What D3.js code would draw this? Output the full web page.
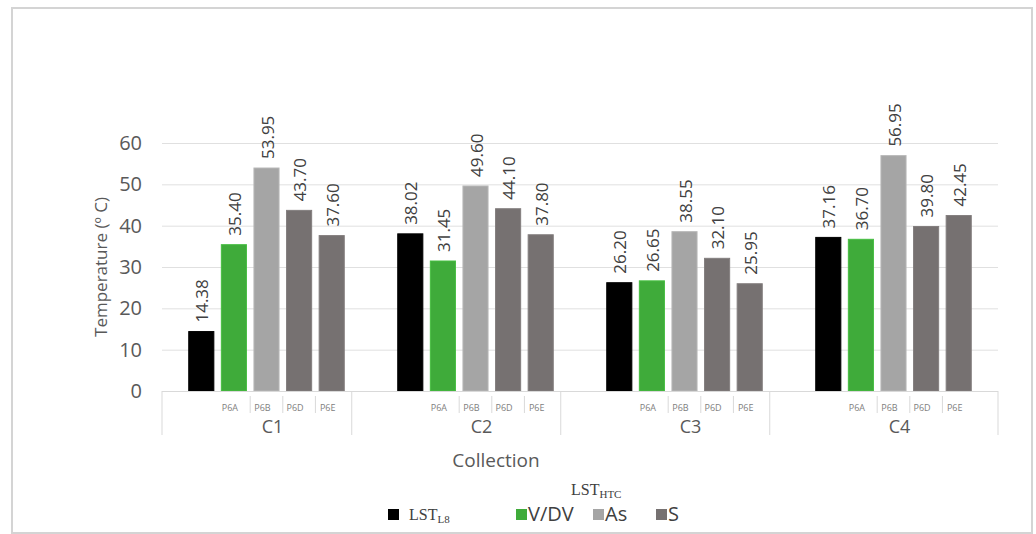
<!DOCTYPE html>
<html>
<head>
<meta charset="utf-8">
<script src="https://cdn.jsdelivr.net/npm/d3@7"></script>
<style>
  html, body { margin: 0; padding: 0; background: #fff; }
  svg { display: block; }
</style>
</head>
<body>
<svg id="chart" width="1036" height="534"></svg>
<script>
// ---- data ----
const collections = ["C1", "C2", "C3", "C4"];
const subCategories = ["", "P6A", "P6B", "P6D", "P6E"];
const barSeries = ["LST_L8", "V/DV", "As", "S", "S"];
const valuesC1 = [14.38, 35.40, 53.95, 43.70, 37.60];
const valuesC2 = [38.02, 31.45, 49.60, 44.10, 37.80];
const valuesC3 = [26.20, 26.65, 38.55, 32.10, 25.95];
const valuesC4 = [37.16, 36.70, 56.95, 39.80, 42.45];
const yTicks = [0, 10, 20, 30, 40, 50, 60];
const legendSeries = ["LST_L8", "V/DV", "As", "S"];

const values = [valuesC1, valuesC2, valuesC3, valuesC4];
const colors = { "LST_L8": "#000000", "V/DV": "#3fab3a", "As": "#a5a5a5", "S": "#767171" };

const svg = d3.select("#chart");
const font = "'Open Sans', 'Liberation Sans', sans-serif";
const textGray = "#595959";

// outer frame
svg.append("rect").attr("x", 12).attr("y", 8).attr("width", 1020).attr("height", 525)
  .attr("fill", "#fff").attr("stroke", "#d4d4d4").attr("stroke-width", 2);

const plot = { left: 162, right: 998, top: 143, bottom: 391 };

const y = d3.scaleLinear().domain([0, 60]).range([plot.bottom, plot.top]);
const x0 = d3.scaleBand().domain(collections).range([plot.left, plot.right]).padding(0);
const x1 = d3.scaleBand().domain(d3.range(subCategories.length))
  .range([0, x0.bandwidth()]).paddingInner(0.23).paddingOuter(0.82);

// gridlines
svg.append("g").selectAll("line").data(yTicks.filter(d => d > 0)).join("line")
  .attr("x1", plot.left).attr("x2", plot.right)
  .attr("y1", d => y(d) + 0.5).attr("y2", d => y(d) + 0.5)
  .attr("stroke", "#e0e0e0").attr("stroke-width", 1);

// y axis (labels only)
const yAxis = d3.axisLeft(y).tickValues(yTicks).tickSize(0).tickPadding(0).tickFormat(d3.format("d"));
const gy = svg.append("g").attr("transform", `translate(${plot.left - 20},0)`).call(yAxis);
gy.select(".domain").remove();
gy.selectAll("text").attr("font-family", font).attr("font-size", 20).attr("fill", textGray);

// y title
svg.append("text")
  .attr("transform", `translate(107,${(plot.top + plot.bottom) / 2}) rotate(-90)`)
  .attr("text-anchor", "middle")
  .attr("font-family", font).attr("font-size", 17).attr("fill", textGray)
  .text("Temperature (º C)");

// bars
const rows = [];
collections.forEach((c, gi) => {
  values[gi].forEach((v, si) => rows.push({ c, si, v, s: barSeries[si] }));
});

svg.append("g").selectAll("rect").data(rows).join("rect")
  .attr("x", d => x0(d.c) + x1(d.si))
  .attr("y", d => y(d.v))
  .attr("width", x1.bandwidth())
  .attr("height", d => y(0) - y(d.v))
  .attr("fill", d => colors[d.s])
  .attr("stroke", d => d3.color(colors[d.s]).brighter(0.3))
  .attr("stroke-width", 1);

// data labels
svg.append("g").selectAll("text").data(rows).join("text")
  .attr("transform", d => `translate(${x0(d.c) + x1(d.si) + x1.bandwidth() / 2 + 1},${y(d.v) - 9}) rotate(-90)`)
  .attr("dy", "0.36em")
  .attr("font-family", font).attr("font-size", 17).attr("fill", "#404040")
  .text(d => d3.format(".2f")(d.v));

// category axis
const axisG = svg.append("g").attr("stroke", "#d9d9d9").attr("stroke-width", 1);
axisG.append("line").attr("x1", plot.left).attr("x2", plot.right)
  .attr("y1", plot.bottom + 0.5).attr("y2", plot.bottom + 0.5);

const gap = x1.step() * x1.paddingInner();
const lastIdx = subCategories.length - 1;
const separators = [plot.left]
  .concat(collections.slice(0, -1).map(c => x0(c) + x1(lastIdx) + x1.bandwidth() + gap))
  .concat([plot.right]);
axisG.selectAll("line.sep").data(separators).join("line").attr("class", "sep")
  .attr("x1", d => d).attr("x2", d => d)
  .attr("y1", plot.bottom).attr("y2", plot.bottom + 44);

// sub ticks between labelled sub-categories
const subTicks = [];
collections.forEach(c => {
  for (let i = 2; i < subCategories.length; i++) subTicks.push(x0(c) + x1(i) - gap / 2);
});
axisG.selectAll("line.sub").data(subTicks).join("line").attr("class", "sub")
  .attr("x1", d => d).attr("x2", d => d)
  .attr("y1", plot.bottom + 5).attr("y2", plot.bottom + 22);

// sub-category labels
const subLabels = [];
collections.forEach(c => subCategories.forEach((s, i) => { if (s) subLabels.push({ c, i, s }); }));
svg.append("g").selectAll("text").data(subLabels).join("text")
  .attr("x", d => x0(d.c) + x1(d.i) + x1.bandwidth() / 2 - 4)
  .attr("y", plot.bottom + 20)
  .attr("text-anchor", "middle")
  .attr("font-family", font).attr("font-size", 9).attr("fill", "#808080")
  .text(d => d.s);

// collection labels
svg.append("g").selectAll("text").data(collections).join("text")
  .attr("x", d => x0(d) + x1(0) + (x1(lastIdx) + x1.bandwidth() - x1(0)) / 2 + 6)
  .attr("y", plot.bottom + 42)
  .attr("text-anchor", "middle")
  .attr("font-family", font).attr("font-size", 18).attr("fill", textGray)
  .text(d => d);

// x title
svg.append("text").attr("x", 496).attr("y", 467)
  .attr("text-anchor", "middle")
  .attr("font-family", font).attr("font-size", 19).attr("fill", textGray)
  .text("Collection");

// legend
const legendY = 515;
const legendPos = { "LST_L8": 388, "V/DV": 516, "As": 593, "S": 656 };
const leg = svg.append("g");
legendSeries.forEach(s => {
  leg.append("rect").attr("x", legendPos[s]).attr("y", legendY - 6)
    .attr("width", 11).attr("height", 11).attr("fill", colors[s]);
});
// LST_L8 (serif with subscript)
const t1 = leg.append("text").attr("x", legendPos["LST_L8"] + 21).attr("y", legendY + 5)
  .attr("font-family", "'Liberation Serif', 'DejaVu Serif', serif").attr("font-size", 16).attr("fill", "#404040");
t1.append("tspan").text("LST");
t1.append("tspan").attr("font-size", 11).attr("dy", 3).text("L8");
// LST_HTC heading
const t2 = leg.append("text").attr("x", 571).attr("y", legendY - 20)
  .attr("font-family", "'Liberation Serif', 'DejaVu Serif', serif").attr("font-size", 16).attr("fill", "#404040");
t2.append("tspan").text("LST");
t2.append("tspan").attr("font-size", 11).attr("dy", 3).text("HTC");
["V/DV", "As", "S"].forEach(s => {
  leg.append("text").attr("x", legendPos[s] + 12).attr("y", legendY + 6)
    .attr("font-family", font).attr("font-size", 20).attr("fill", "#404040")
    .text(s);
});
</script>
</body>
</html>
